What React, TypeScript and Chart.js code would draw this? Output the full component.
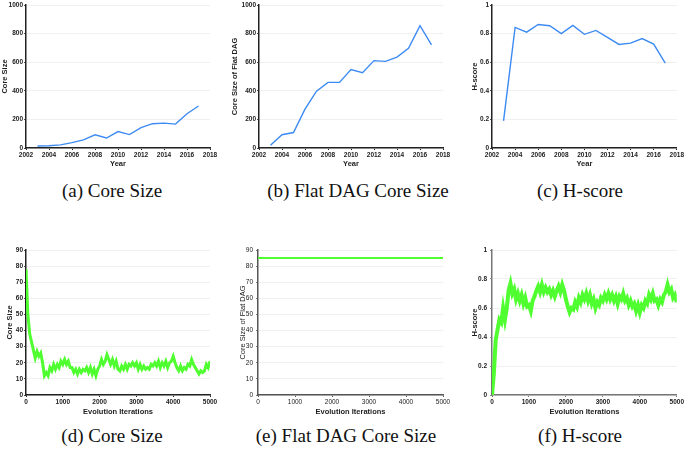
import React, { useEffect, useRef } from "react";
import { Chart, registerables } from "chart.js";

Chart.register(...registerables);

// ---------- data ----------
const YEARS = [2003, 2004, 2005, 2006, 2007, 2008, 2009, 2010, 2011, 2012, 2013, 2014, 2015, 2016, 2017];
const CORE_SIZE = [14, 16, 22, 38, 57, 92, 70, 115, 94, 142, 170, 174, 167, 240, 294];
const FLAT_DAG_CORE_SIZE = [19, 93, 108, 272, 397, 459, 459, 549, 527, 611, 606, 636, 697, 856, 721];
const H_SCORE = [0.19, 0.843, 0.81, 0.864, 0.855, 0.8, 0.857, 0.795, 0.822, 0.774, 0.724, 0.733, 0.765, 0.727, 0.593];

const ITER_MAX = 5000;
const EVO_CORE_SIZE = [
  78, 50, 38, 33, 28, 23, 27, 24, 26, 20,
  12, 14, 12, 17, 15, 19, 16, 19, 17, 21,
  19, 22, 19, 21, 17, 17, 14, 16, 13, 16,
  14, 16, 15, 17, 14, 17, 13, 16, 12, 16,
  18, 22, 19, 21, 25, 22, 19, 22, 18, 21,
  16, 15, 18, 16, 19, 16, 19, 18, 20, 18,
  20, 16, 19, 16, 18, 16, 17, 16, 19, 18,
  20, 18, 21, 17, 20, 18, 21, 17, 20, 21,
  24, 20, 17, 15, 18, 15, 17, 16, 19, 18,
  22, 19, 17, 15, 13, 15, 14, 15, 19, 17,
  21,
];
const EVO_FLAT_ITERS = [0, 5000];
const EVO_FLAT_DAG = [85, 85];
const EVO_H_SCORE = [
  0, 0.15, 0.38, 0.45, 0.52, 0.5, 0.6, 0.52, 0.6, 0.72,
  0.77, 0.7, 0.73, 0.66, 0.7, 0.65, 0.69, 0.63, 0.67, 0.61,
  0.62, 0.58, 0.65, 0.68, 0.72, 0.75, 0.71, 0.76, 0.71, 0.74,
  0.71, 0.73, 0.69, 0.72, 0.68, 0.72, 0.75, 0.71, 0.76, 0.72,
  0.66, 0.61, 0.57, 0.6, 0.59, 0.64, 0.61, 0.67, 0.64, 0.69,
  0.66, 0.7, 0.65, 0.69, 0.63, 0.66, 0.6, 0.64, 0.62, 0.67,
  0.65, 0.69, 0.66, 0.7, 0.66, 0.69, 0.65, 0.68, 0.63, 0.68,
  0.66, 0.7, 0.65, 0.67, 0.62, 0.65, 0.61, 0.63, 0.58, 0.62,
  0.57, 0.62, 0.6, 0.65, 0.63, 0.69, 0.66, 0.7, 0.65, 0.66,
  0.62, 0.66, 0.64, 0.69, 0.71, 0.76, 0.71, 0.73, 0.67, 0.69,
  0.64,
];

const BLUE = "#3d8bf2";
const GREEN = "#50ff30";
const SANS = "'Liberation Sans', Arial, sans-serif";

type Pt = { x: number; y: number };

const zip = (xs: number[], ys: number[]): Pt[] => ys.map((y, i) => ({ x: xs[i], y }));
const iterPoints = (ys: number[]): Pt[] =>
  ys.map((y, i) => ({ x: (i * ITER_MAX) / (ys.length - 1), y }));
const fmt = (v: any) => String(Math.round(Number(v) * 100) / 100);

interface PanelProps {
  box: { left: number; top: number; width: number; height: number };
  yW: number;
  xH: number;
  padTop: number;
  padRight: number;
  yTitlePad: number;
  points: Pt[];
  color: string;
  lineWidth: number;
  xMin: number;
  xMax: number;
  xStep: number;
  yMax: number;
  yStep: number;
  xTitle: string;
  yTitle: string;
  bold: boolean;
  axisColor: string;
  yTickPad: number;
}

function Panel(p: PanelProps) {
  const ref = useRef<HTMLCanvasElement>(null);
  useEffect(() => {
    if (!ref.current) return;
    const weight = p.bold ? "bold" : "normal";
    const chart = new Chart(ref.current, {
      type: "line",
      data: {
        datasets: [
          {
            data: p.points,
            borderColor: p.color,
            borderWidth: p.lineWidth,
            pointRadius: 0,
            fill: false,
            tension: 0,
          },
        ],
      },
      options: {
        animation: false,
        responsive: false,
        maintainAspectRatio: false,
        layout: { padding: { top: p.padTop, right: p.padRight, left: 0, bottom: 0 } },
        plugins: { legend: { display: false }, tooltip: { enabled: false } },
        scales: {
          x: {
            type: "linear",
            min: p.xMin,
            max: p.xMax,
            afterFit: (s: any) => {
              s.height = p.xH;
            },
            ticks: {
              stepSize: p.xStep,
              autoSkip: false,
              maxRotation: 0,
              padding: 1,
              color: "#222",
              font: { family: SANS, size: 6.5, weight: weight },
              callback: (v: any) => String(v),
            },
            grid: {
              display: true,
              drawOnChartArea: false,
              drawTicks: true,
              tickLength: 2,
              tickColor: p.axisColor,
            },
            border: { display: true, color: p.axisColor, width: 1.5 },
            title: {
              display: true,
              text: p.xTitle,
              color: "#222",
              font: { family: SANS, size: 7.5, weight: "bold" },
              padding: { top: 0, bottom: 0 },
            },
          },
          y: {
            type: "linear",
            min: 0,
            max: p.yMax,
            afterFit: (s: any) => {
              s.width = p.yW;
            },
            ticks: {
              stepSize: p.yStep,
              padding: p.yTickPad,
              color: "#222",
              font: { family: SANS, size: 6.5, weight: weight },
              callback: fmt,
            },
            grid: {
              color: "#ececec",
              lineWidth: 0.8,
              drawTicks: true,
              tickLength: 2,
              tickColor: p.axisColor,
            },
            border: { display: true, color: p.axisColor, width: 1.5 },
            title: {
              display: true,
              text: p.yTitle,
              color: "#222",
              font: { family: SANS, size: 7.5, weight: p.bold ? "bold" : "normal" },
              padding: { top: p.yTitlePad, bottom: 0 },
            },
          },
        },
      },
    });
    return () => chart.destroy();
  }, []);
  return (
    <canvas
      ref={ref}
      width={p.box.width}
      height={p.box.height}
      style={{
        position: "absolute",
        left: p.box.left,
        top: p.box.top,
        width: p.box.width,
        height: p.box.height,
      }}
    />
  );
}

function Caption({ text, cx, cy }: { text: string; cx: number; cy: number }) {
  return (
    <div
      style={{
        position: "absolute",
        left: cx,
        top: cy,
        transform: "translate(-50%, -50%)",
        whiteSpace: "nowrap",
        fontFamily: "'Liberation Serif', 'Times New Roman', serif",
        fontSize: 19,
        color: "#111",
        lineHeight: "22px",
      }}
    >
      {text}
    </div>
  );
}

export default function App() {
  const yearsCommon = { xMin: 2002, xMax: 2018, xStep: 2, xTitle: "Year", color: BLUE, lineWidth: 1.4 };
  const iterCommon = { xMin: 0, xMax: ITER_MAX, xStep: 1000, xTitle: "Evolution Iterations", color: GREEN };
  return (
    <div
      style={{
        position: "fixed",
        left: 0,
        top: 0,
        width: 685,
        height: 451,
        overflow: "hidden",
        background: "#fff",
      }}
    >
      <Panel
        {...yearsCommon}
        box={{ left: 0, top: 0, width: 222, height: 168 }}
        yW={26}
        xH={20}
        padTop={5}
        padRight={12}
        yTitlePad={0}
        yTickPad={1}
        points={zip(YEARS, CORE_SIZE)}
        yMax={1000}
        yStep={200}
        yTitle="Core Size"
        bold={true}
        axisColor="#222"
      />
      <Panel
        {...yearsCommon}
        box={{ left: 225, top: 0, width: 230, height: 168 }}
        yW={34}
        xH={20}
        padTop={5}
        padRight={12}
        yTitlePad={5}
        yTickPad={1}
        points={zip(YEARS, FLAT_DAG_CORE_SIZE)}
        yMax={1000}
        yStep={200}
        yTitle="Core Size of Flat DAG"
        bold={true}
        axisColor="#222"
      />
      <Panel
        {...yearsCommon}
        box={{ left: 458, top: 0, width: 227, height: 168 }}
        yW={34}
        xH={20}
        padTop={5}
        padRight={8}
        yTitlePad={12}
        yTickPad={1}
        points={zip(YEARS, H_SCORE)}
        yMax={1}
        yStep={0.2}
        yTitle="H-score"
        bold={true}
        axisColor="#222"
      />
      <Panel
        {...iterCommon}
        box={{ left: 0, top: 240, width: 222, height: 176 }}
        yW={26}
        xH={21}
        padTop={10}
        padRight={12}
        yTitlePad={5}
        yTickPad={1}
        lineWidth={3}
        points={iterPoints(EVO_CORE_SIZE)}
        yMax={90}
        yStep={10}
        yTitle="Core Size"
        bold={true}
        axisColor="#222"
      />
      <Panel
        {...iterCommon}
        box={{ left: 225, top: 240, width: 230, height: 176 }}
        yW={33}
        xH={21}
        padTop={10}
        padRight={12}
        yTitlePad={13}
        yTickPad={3}
        lineWidth={2}
        points={zip(EVO_FLAT_ITERS, EVO_FLAT_DAG)}
        yMax={90}
        yStep={10}
        yTitle="Core Size of Flat DAG"
        bold={false}
        axisColor="#555"
      />
      <Panel
        {...iterCommon}
        box={{ left: 458, top: 240, width: 227, height: 176 }}
        yW={34}
        xH={21}
        padTop={10}
        padRight={8}
        yTitlePad={12}
        yTickPad={3}
        lineWidth={4}
        points={iterPoints(EVO_H_SCORE)}
        yMax={1}
        yStep={0.2}
        yTitle="H-score"
        bold={true}
        axisColor="#777"
      />
      <Caption text="(a) Core Size" cx={112} cy={191} />
      <Caption text="(b) Flat DAG Core Size" cx={358} cy={191} />
      <Caption text="(c) H-score" cx={580} cy={191} />
      <Caption text="(d) Core Size" cx={112} cy={436} />
      <Caption text="(e) Flat DAG Core Size" cx={346} cy={436} />
      <Caption text="(f) H-score" cx={580} cy={436} />
    </div>
  );
}
